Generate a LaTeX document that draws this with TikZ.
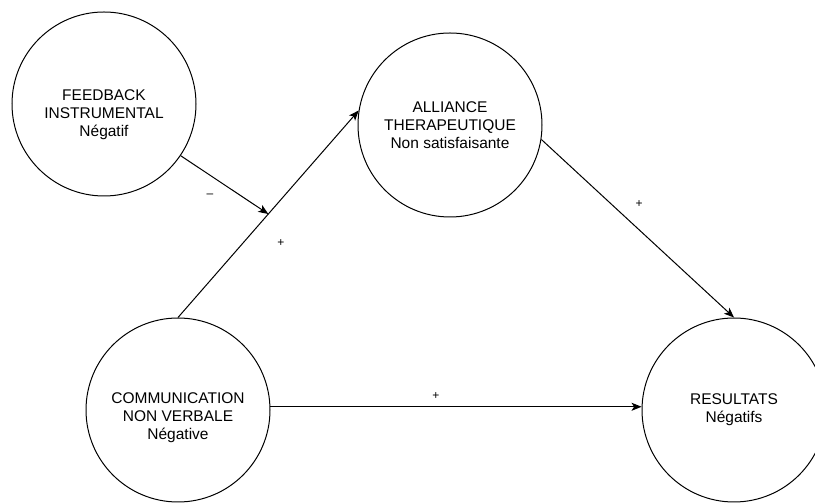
\documentclass[tikz,border=0pt]{standalone}
\usepackage{fontspec}
\setmainfont{Liberation Sans}
\usetikzlibrary{arrows.meta}

\begin{document}
\begin{tikzpicture}[x=1pt,y=1pt,
  ring/.style={draw,circle,line width=1pt,minimum size=184pt,inner sep=0pt},
  caption/.style={align=center,font=\fontsize{15.5}{18}\selectfont},
  link/.style={line width=1pt,-{Stealth[length=10pt,width=8pt,inset=2.5pt]}},
  sign/.style={font=\fontsize{12}{13}\selectfont}]
 \useasboundingbox (0,0) rectangle (815,503);
 \node[ring] (feed) at (104,399) {};
 \node[ring] (alli) at (450,378) {};
 \node[ring] (comm) at (178,93) {};
 \node[ring] (res) at (734,93) {};
 \node[caption] (feedtxt) at ([yshift=-11pt]feed.center) {FEEDBACK\\INSTRUMENTAL\\Négatif};
 \node[caption] (allitxt) at (alli.center) {ALLIANCE\\THERAPEUTIQUE\\Non satisfaisante};
 \node[caption] (commtxt) at ([yshift=-8pt]comm.center) {COMMUNICATION\\NON VERBALE\\Négative};
 \node[caption] (restxt) at (res.center) {RESULTATS\\Négatifs};
 \draw[link] (comm.north) -- coordinate[pos=.5] (mid) (alli.171);
 \draw[link] (feed.-34) -- (mid);
 \draw[link] (alli.-9) -- (res.north);
 \draw[link] (comm.2) -- (res.178);
 \node[sign] (s1) at (210,307) {–};
 \node[sign] (s2) at (281,260) {+};
 \node[sign] (s3) at (639,299) {+};
 \node[sign] (s4) at (436,107) {+};
\end{tikzpicture}
\end{document}
